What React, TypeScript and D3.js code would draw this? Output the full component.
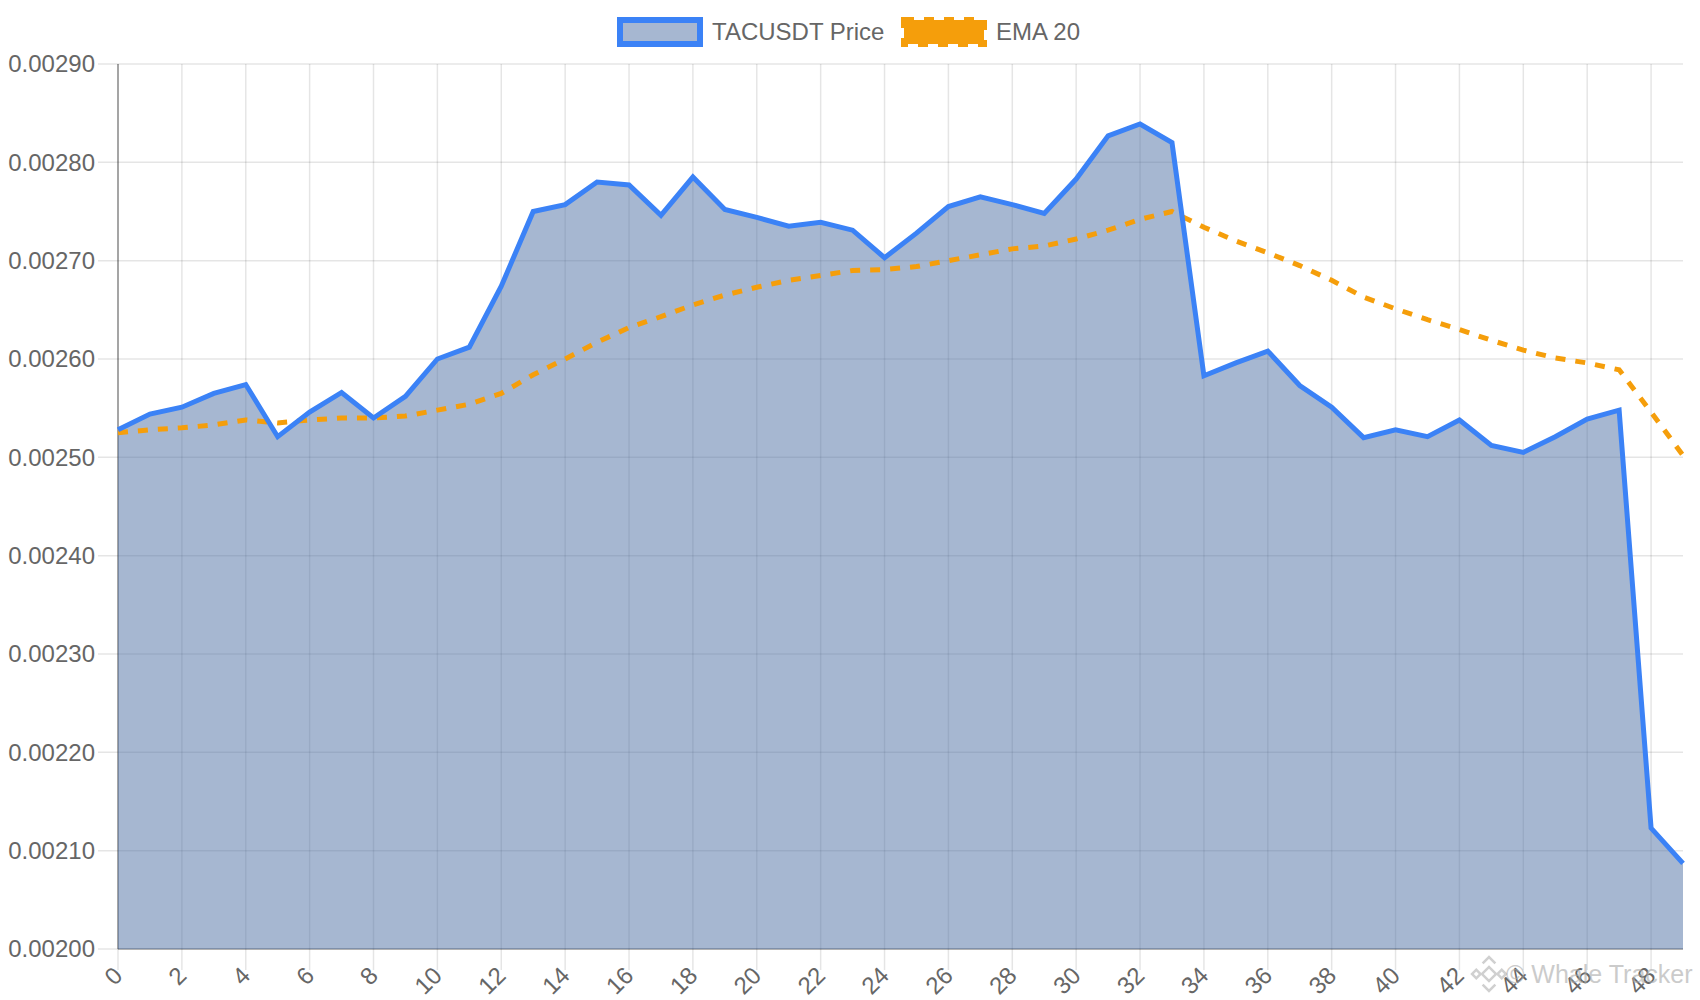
import React from "react";
import * as d3 from "d3";

const indices: number[] = Array.from({ length: 50 }, (_, i) => i);

const priceValues: number[] = [
  0.002528, 0.002544, 0.002551, 0.002565, 0.002574, 0.002521, 0.002546, 0.002566, 0.00254, 0.002562,
  0.0026, 0.002612, 0.002674, 0.00275, 0.002757, 0.00278, 0.002777, 0.002746, 0.002785, 0.002752,
  0.002744, 0.002735, 0.002739, 0.002731, 0.002703, 0.002728, 0.002755, 0.002765, 0.002757, 0.002748,
  0.002783, 0.002827, 0.002839, 0.00282, 0.002583, 0.002596, 0.002608, 0.002573, 0.002551, 0.00252,
  0.002528, 0.002521, 0.002538, 0.002512, 0.002505, 0.002521, 0.002539, 0.002548, 0.002123, 0.002087,
];

const emaValues: number[] = [
  0.002525, 0.002528, 0.00253, 0.002533, 0.002538, 0.002535, 0.002538, 0.00254, 0.00254, 0.002542,
  0.002548, 0.002554, 0.002565, 0.002584, 0.0026, 0.002617, 0.002632, 0.002643, 0.002655, 0.002665,
  0.002673, 0.00268, 0.002685, 0.00269, 0.002691, 0.002694, 0.0027, 0.002706, 0.002712, 0.002715,
  0.002722, 0.002731, 0.002742, 0.00275, 0.002734, 0.00272, 0.002708, 0.002695, 0.00268, 0.002663,
  0.002651, 0.00264, 0.00263, 0.002619, 0.002609, 0.002601, 0.002596, 0.002589, 0.002546, 0.002502,
];

const yTicks: number[] = [0.002, 0.0021, 0.0022, 0.0023, 0.0024, 0.0025, 0.0026, 0.0027, 0.0028, 0.0029];
const xTicks: number[] = indices.filter((i) => i % 2 === 0);

const seriesNames: string[] = ["TACUSDT Price", "EMA 20"];

const W = 1700;
const H = 1000;
const left = 118;
const right = 1683;
const top = 64;
const bottom = 949;
const FONT = "'Liberation Sans', Arial, Helvetica, sans-serif";

const BLUE = "#3b82f6";
const ORANGE = "#f59e0b";
const FILL = "rgba(77,112,163,0.5)";
const GRID = "rgba(0,0,0,0.1)";

export default function App() {
  const x = d3.scaleLinear().domain([0, 49]).range([left, right]);
  const y = d3.scaleLinear().domain([0.002, 0.0029]).range([bottom, top]);

  const area = d3
    .area<number>()
    .x((_, i) => x(indices[i]))
    .y0(y(0.002))
    .y1((d) => y(d));
  const line = d3
    .line<number>()
    .x((_, i) => x(indices[i]))
    .y((d) => y(d));

  return (
    <svg
      width={W}
      height={H}
      style={{ position: "absolute", left: 0, top: 0, background: "#fff" }}
      fontFamily={FONT}
    >
      {/* grid */}
      {yTicks.map((t) => (
        <g key={"y" + t}>
          <line x1={left - 20} x2={right} y1={y(t)} y2={y(t)} stroke={GRID} strokeWidth={1.5} />
          <text x={95} y={y(t)} dy="0.35em" textAnchor="end" fontSize={24} fill="#666">
            {d3.format(".5f")(t)}
          </text>
        </g>
      ))}
      {xTicks.map((t) => (
        <g key={"x" + t}>
          <line x1={x(t)} x2={x(t)} y1={top} y2={bottom + 21} stroke={GRID} strokeWidth={1.5} />
          <text
            transform={`translate(${x(t)},${bottom + 22}) rotate(-45)`}
            dy="0.35em"
            textAnchor="end"
            fontSize={24}
            fill="#666"
          >
            {t}
          </text>
        </g>
      ))}
      <line x1={left} x2={left} y1={top} y2={bottom} stroke="rgba(0,0,0,0.3)" strokeWidth={2} />
      <line x1={left} x2={right} y1={bottom} y2={bottom} stroke="rgba(0,0,0,0.25)" strokeWidth={2} />

      {/* price fill */}
      <path d={area(priceValues) || ""} fill={FILL} />
      {/* EMA */}
      <path
        d={line(emaValues) || ""}
        fill="none"
        stroke={ORANGE}
        strokeWidth={5}
        strokeDasharray="10,10"
        strokeLinejoin="miter"
      />
      {/* price line */}
      <path
        d={line(priceValues) || ""}
        fill="none"
        stroke={BLUE}
        strokeWidth={5}
        strokeLinejoin="miter"
      />

      {/* legend */}
      <rect x={620} y={20} width={80} height={24} fill={FILL} stroke={BLUE} strokeWidth={6} />
      <text x={712} y={32} dy="0.35em" fontSize={24} fill="#666">
        {seriesNames[0]}
      </text>
      <rect
        x={904}
        y={20}
        width={80}
        height={24}
        fill={ORANGE}
        stroke={ORANGE}
        strokeWidth={6}
        strokeDasharray="10,10"
      />
      <text x={996} y={32} dy="0.35em" fontSize={24} fill="#666">
        {seriesNames[1]}
      </text>

      {/* watermark */}
      <g opacity={0.55} fill="none" stroke="#aaa" strokeWidth={2.5}>
        <g transform="translate(1489,974) rotate(45)">
          <rect x={-5} y={-5} width={10} height={10} />
          <path d="M-12,-3 L-12,-12 L-3,-12" />
          <path d="M3,12 L12,12 L12,3" />
          <rect x={6} y={-12} width={6} height={6} />
          <rect x={-12} y={6} width={6} height={6} />
        </g>
      </g>
      <text x={1506} y={974} dy="0.35em" fontSize={25} fill="#aaa" opacity={0.6}>
        © Whale Tracker
      </text>
    </svg>
  );
}
